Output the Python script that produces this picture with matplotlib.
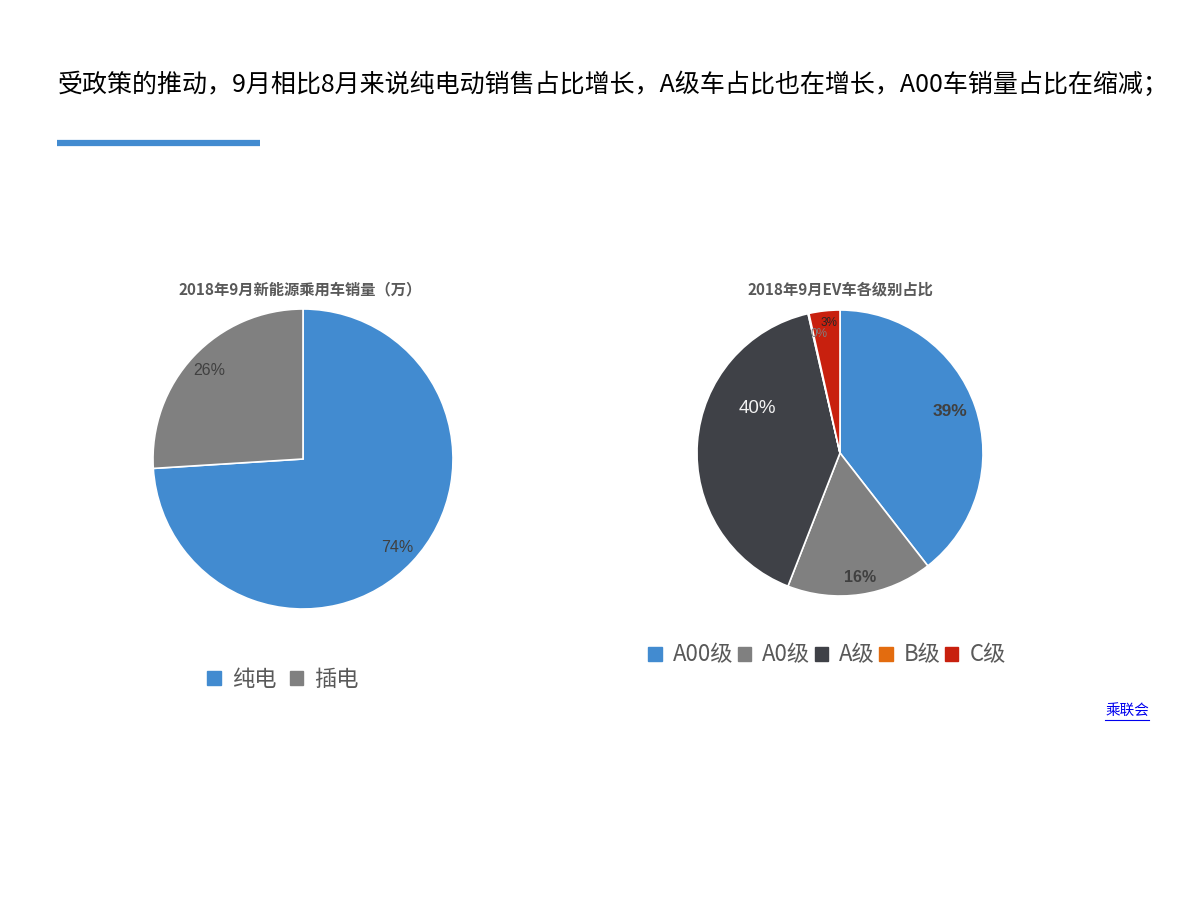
import matplotlib
matplotlib.use('Agg')
import matplotlib.pyplot as plt
from matplotlib.patches import Patch
from matplotlib.lines import Line2D

plt.rcParams['font.family'] = ['Noto Sans CJK SC', 'DejaVu Sans']

# data
title_text = '受政策的推动，9月相比8月来说纯电动销售占比增长，A级车占比也在增长，A00车销量占比在缩减；'

pie1_title = '2018年9月新能源乘用车销量（万）'
pie1_labels = ['纯电', '插电']
pie1_values = [9.25, 3.25]
pie1_colors = ['#428BD0', '#808080']

pie2_title = '2018年9月EV车各级别占比'
pie2_labels = ['A00级', 'A0级', 'A级', 'B级', 'C级']
pie2_values = [39.48, 16.45, 40.48, 0.1, 3.49]
pie2_colors = ['#428BD0', '#808080', '#3F4147', '#E36C0F', '#C8200E']

source_text = '乘联会'

W, H = 1200, 900
fig = plt.figure(figsize=(12, 9), dpi=100)
fig.patch.set_facecolor('white')

def px_axes(cx, cy, r):
    return fig.add_axes([(cx - r) / W, (H - cy - r) / H, 2 * r / W, 2 * r / H])

pct_font = ['Liberation Sans', 'DejaVu Sans']

# header
fig.text(58 / W, 1 - 85 / H, title_text, fontsize=18, color='black', va='center', ha='left')
fig.add_artist(Line2D([57 / W, 260 / W], [1 - 143 / H, 1 - 143 / H], color='#428BD0', lw=4.5,
                      solid_capstyle='butt'))

# pie 1
ax1 = px_axes(303, 459, 150)
w1, t1, a1 = ax1.pie(pie1_values, colors=pie1_colors, startangle=90, counterclock=False,
                     autopct='%.0f%%', pctdistance=0.86,
                     wedgeprops=dict(edgecolor='white', linewidth=1.2),
                     textprops=dict(fontsize=11.5, color='#404040', family=pct_font))
ax1.set_xlim(-1, 1)
ax1.set_ylim(-1, 1)
ax1.set_aspect('equal')
ax1.axis('off')
fig.text(300 / W, 1 - 289 / H, pie1_title, fontsize=11, fontweight='bold', color='#595959',
         ha='center', va='center')
fig.legend(handles=[Patch(color=c, label=l) for c, l in zip(pie1_colors, pie1_labels)],
           loc='center', bbox_to_anchor=(283 / W, 1 - 679 / H), ncol=2, frameon=False,
           fontsize=16, handlelength=0.6, handleheight=0.6, handletextpad=0.5,
           columnspacing=0.6, labelcolor='#595959')

# pie 2
ax2 = px_axes(840, 453, 143)
w2, t2, a2 = ax2.pie(pie2_values, colors=pie2_colors, startangle=90, counterclock=False,
                     autopct='%.0f%%', pctdistance=0.82,
                     wedgeprops=dict(edgecolor='white', linewidth=1.2),
                     textprops=dict(fontsize=11, color='#404040', family=pct_font))
ax2.set_xlim(-1, 1)
ax2.set_ylim(-1, 1)
ax2.set_aspect('equal')
ax2.axis('off')
label_pos = [(0.77, 0.29), (0.14, -0.87), (-0.58, 0.31), (-0.15, 0.83), (-0.08, 0.91)]
label_style = [dict(fontsize=12.5, fontweight='bold', color='#404040'),
               dict(fontsize=11.5, fontweight='bold', color='#404040'),
               dict(fontsize=13.5, color='#F2F2F2'),
               dict(fontsize=8.5, color='#7F7F7F'),
               dict(fontsize=8.5, color='#262626')]
for t, p, s in zip(a2, label_pos, label_style):
    t.set_position(p)
    t.set(**s)
fig.text(840 / W, 1 - 289 / H, pie2_title, fontsize=11, fontweight='bold', color='#595959',
         ha='center', va='center')
fig.legend(handles=[Patch(color=c, label=l) for c, l in zip(pie2_colors, pie2_labels)],
           loc='center', bbox_to_anchor=(827 / W, 1 - 655 / H), ncol=5, frameon=False,
           fontsize=16, handlelength=0.6, handleheight=0.6, handletextpad=0.5,
           columnspacing=0.2, labelcolor='#595959')

# source
fig.text(1127 / W, 1 - 711 / H, source_text, fontsize=10.5, color='#0000EE', ha='center', va='center')
fig.add_artist(Line2D([1105 / W, 1149 / W], [1 - 720 / H, 1 - 720 / H], color='#0000EE', lw=0.8))

fig.savefig('out.png', dpi=100, facecolor='white')
